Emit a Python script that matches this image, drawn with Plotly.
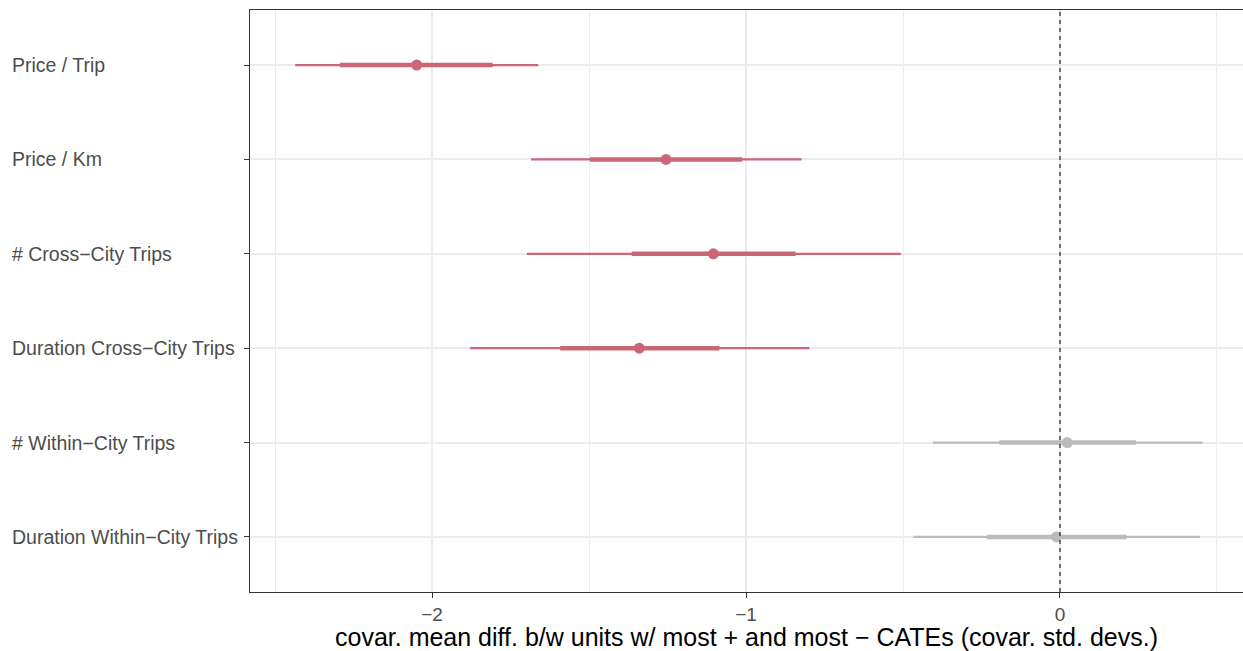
import plotly.graph_objects as go

# Covariates, top to bottom
covariates = [
    "Price / Trip",
    "Price / Km",
    "# Cross\u2212City Trips",
    "Duration Cross\u2212City Trips",
    "# Within\u2212City Trips",
    "Duration Within\u2212City Trips",
]
estimate = [-2.049, -1.255, -1.104, -1.340, 0.023, -0.011]
inner_lo = [-2.293, -1.497, -1.364, -1.592, -0.193, -0.233]
inner_hi = [-1.807, -1.012, -0.842, -1.085, 0.242, 0.212]
outer_lo = [-2.436, -1.685, -1.698, -1.879, -0.405, -0.467]
outer_hi = [-1.662, -0.823, -0.507, -0.798, 0.454, 0.446]

SIG_COLOR = "#CC6677"
NS_COLOR = "#BBBBBB"
FONT = "Liberation Sans, Arial, Helvetica, sans-serif"

fig = go.Figure()

for i, name in enumerate(covariates):
    significant = outer_hi[i] < 0 or outer_lo[i] > 0
    col = SIG_COLOR if significant else NS_COLOR
    fig.add_trace(go.Scatter(
        x=[outer_lo[i], outer_hi[i]], y=[name, name], mode="lines",
        line=dict(color=col, width=2.2), showlegend=False, hoverinfo="skip"))
    fig.add_trace(go.Scatter(
        x=[inner_lo[i], inner_hi[i]], y=[name, name], mode="lines",
        line=dict(color=col, width=4.5), showlegend=False, hoverinfo="skip"))
    fig.add_trace(go.Scatter(
        x=[estimate[i]], y=[name], mode="markers",
        marker=dict(color=col, size=11), showlegend=False))

# reference line at zero
fig.add_vline(x=0, line=dict(color="#333333", width=1.3, dash="4px,4px"), layer="above")

# left-aligned category labels
for name in covariates:
    fig.add_annotation(
        x=-240 / 993, xref="paper", y=name, yref="y", text=name,
        showarrow=False, xanchor="left", yanchor="middle",
        font=dict(family=FONT, size=19.5, color="#4D4D4D"))

fig.update_xaxes(
    range=[-2.58, 0.583],
    tickvals=[-2, -1, 0],
    showgrid=True, gridcolor="#EBEBEB", gridwidth=1.5,
    minor=dict(tickvals=[-2.5, -1.5, -0.5, 0.5], showgrid=True,
               gridcolor="#EBEBEB", gridwidth=0.8, ticks=""),
    zeroline=False,
    showline=True, linecolor="#333333", linewidth=1.2, mirror=True,
    ticks="outside", ticklen=5, tickcolor="#333333", tickwidth=1.3,
    tickfont=dict(family=FONT, size=19, color="#4D4D4D"),
    title=dict(text="covar. mean diff. b/w units w/ most + and most \u2212 CATEs (covar. std. devs.)",
               font=dict(family=FONT, size=25, color="#000000"), standoff=4),
)
fig.update_yaxes(
    type="category",
    categoryorder="array", categoryarray=covariates[::-1],
    range=[-0.583, 5.583],
    showgrid=True, gridcolor="#EBEBEB", gridwidth=1.5,
    zeroline=False,
    showline=True, linecolor="#333333", linewidth=1.2, mirror=True,
    ticks="outside", ticklen=5, tickcolor="#333333", tickwidth=1.3,
    showticklabels=False,
)

fig.update_layout(
    width=1243, height=651,
    margin=dict(l=250, r=0, t=10, b=59),
    plot_bgcolor="white", paper_bgcolor="white",
    font=dict(family=FONT),
)

fig.write_html("out.html")
